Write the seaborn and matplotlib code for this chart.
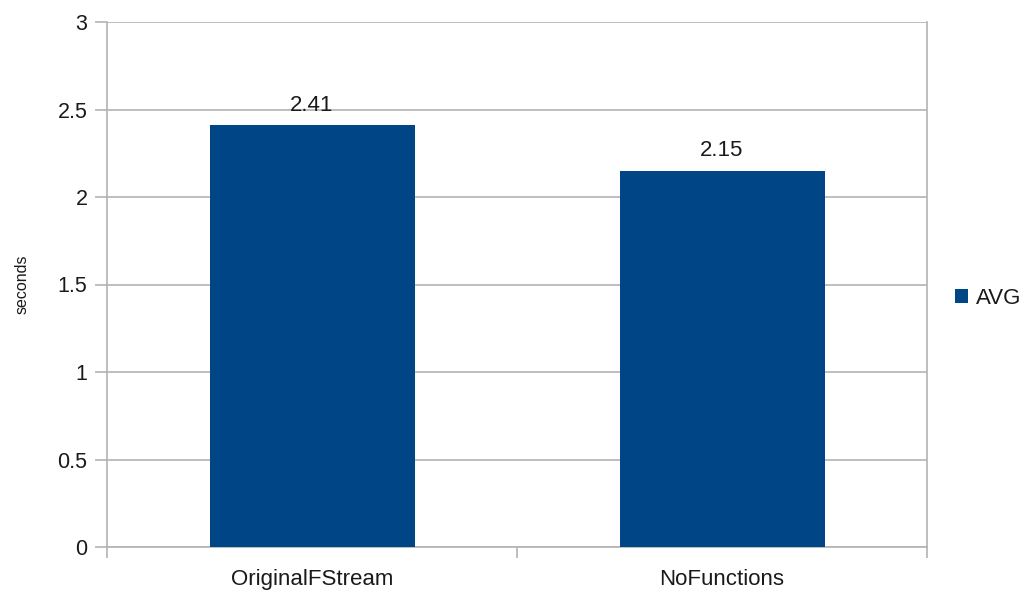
import matplotlib
matplotlib.use("Agg")
import matplotlib.pyplot as plt
import seaborn as sns
import pandas as pd

categories = ["OriginalFStream", "NoFunctions"]
avg_values = [2.41, 2.15]
series_name = "AVG"
y_ticks = [0, 0.5, 1, 1.5, 2, 2.5, 3]
y_tick_labels = ["0", "0.5", "1", "1.5", "2", "2.5", "3"]

sns.set_theme(style="white")
plt.rcParams["font.family"] = ["Liberation Sans", "DejaVu Sans"]

df = pd.DataFrame({"category": categories, "value": avg_values, "series": series_name})

W, H = 1033, 592
fig = plt.figure(figsize=(W / 100, H / 100), dpi=100)
ax = fig.add_axes([107 / W, 1 - 547 / H, (927 - 107) / W, (547 - 22) / H])

bar_color = "#004586"
grid_color = "#b3b3b3"
text_color = "#1a1a1a"

sns.barplot(data=df, x="category", y="value", hue="series", palette=[bar_color],
            width=0.5, saturation=1, ax=ax, legend=True, zorder=3, linewidth=0)

ax.set_xlim(-0.5, len(categories) - 0.5)
ax.set_ylim(0, 3)
ax.set_yticks(y_ticks)
ax.set_yticklabels(y_tick_labels)
ax.yaxis.grid(True, color=grid_color, linewidth=1.2, zorder=0)
ax.set_axisbelow(True)

for s in ax.spines.values():
    s.set_color(grid_color)
    s.set_linewidth(1.2)
ax.spines["top"].set_visible(False)

ax.tick_params(axis="y", which="major", left=True, length=9, width=1.2,
               color=grid_color, labelsize=15.5, labelcolor=text_color, pad=5)
ax.tick_params(axis="x", which="major", bottom=False, labelsize=16,
               labelcolor=text_color, pad=10)
ax.set_xticks([i - 0.5 for i in range(len(categories) + 1)], minor=True)
ax.tick_params(axis="x", which="minor", bottom=True, length=8, width=1.2,
               color=grid_color)

ax.set_xlabel("")
ax.set_ylabel("seconds", fontsize=11.5, color=text_color, labelpad=20)

for container in ax.containers:
    ax.bar_label(container, labels=[f"{v:.2f}" for v in avg_values],
                 padding=7, fontsize=16, color=text_color)

leg = ax.legend(loc="center left", bbox_to_anchor=(955 / W, 1 - 298 / H),
                bbox_transform=fig.transFigure, frameon=False, fontsize=16,
                handlelength=0.6, handleheight=0.6, handletextpad=0.35,
                borderaxespad=0, borderpad=0)
for t in leg.get_texts():
    t.set_color(text_color)

fig.savefig("out.png", dpi=100)
